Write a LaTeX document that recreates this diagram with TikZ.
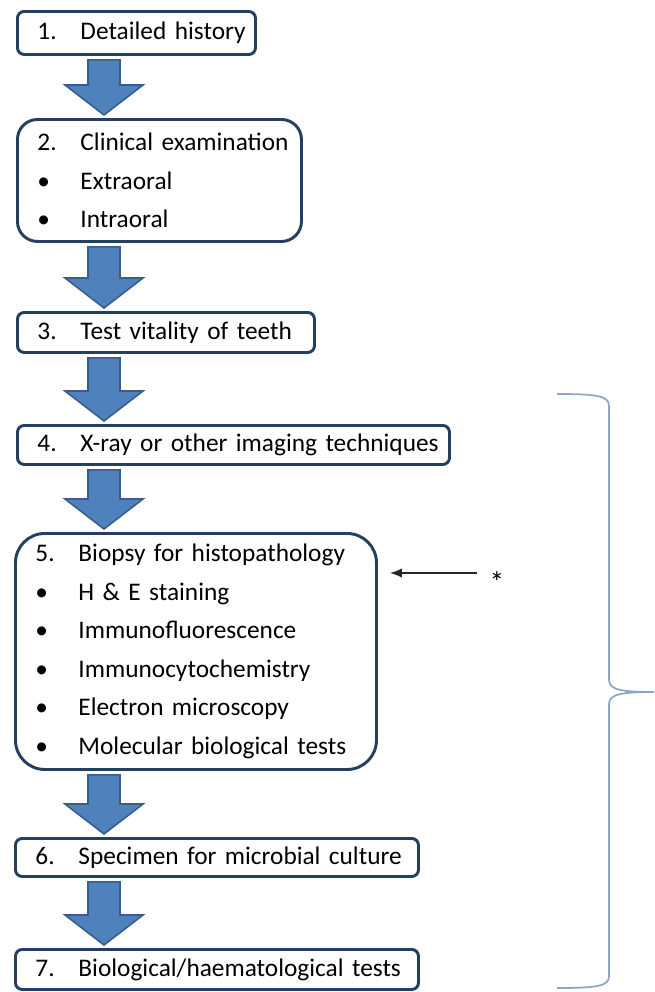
\documentclass[tikz,border=0pt]{standalone}
\usepackage{fontspec}
\setmainfont{Carlito}
\usetikzlibrary{calc,arrows.meta}
\definecolor{boxline}{HTML}{243F60}
\definecolor{arrowfill}{HTML}{4F81BD}
\definecolor{arrowline}{HTML}{385D8A}
\definecolor{braceline}{HTML}{8EA6C6}
\newcommand{\stepline}[2]{\makebox[\linewidth][l]{\makebox[32.25pt][l]{#1}#2}}

\begin{document}
\begin{tikzpicture}[x=0.75pt,y=-0.75pt,
	stepbox/.style={draw=boxline, line width=2.2pt, fill=white, rounded corners=5pt,
		anchor=north west, inner xsep=15pt, inner ysep=0pt, align=left,
		font=\fontsize{19}{28.9}\selectfont, text width=#1, minimum height=30pt},
	flowarrow/.style={fill=arrowfill, draw=arrowline, line width=1.2pt, line join=miter},
	notearrow/.style={-{Latex[length=9pt,width=7pt]}, draw=black!85, line width=1.1pt},
	bracestyle/.style={draw=braceline, line width=1.3pt}]
	\useasboundingbox (0,0) rectangle (654,992);
	\newcommand{\flowarrow}[2]{%
		\draw[flowarrow] ($(col |- #1.south)+(-16,4)$) -- ++(32,0)
			|- ($(col |- #2.north)+(39,-33)$) -- ($(col |- #2.north)+(0,-3)$)
			-- ++(-39,-30) -- ++(23,0) -- cycle;
	}
	\coordinate (col) at (104,0);
	% the seven steps
	\node[stepbox=148.5pt, minimum height=32.25pt] (b1) at (16,10) {\stepline{1.}{Detailed history}};
	\node[stepbox=183pt, minimum height=91.5pt, rounded corners=15pt] (b2) at (16,118)
		{\stepline{2.}{Clinical examination}\\ \stepline{\textbullet}{Extraoral}\\ \stepline{\textbullet}{Intraoral}};
	\node[stepbox=192.75pt] (b3) at (16,311) {\stepline{3.}{Test vitality of teeth}};
	\node[stepbox=294pt, minimum height=29.25pt] (b4) at (16,424) {\stepline{4.}{X-ray or other imaging techniques}};
	\node[stepbox=240.75pt, minimum height=177pt, rounded corners=22pt] (b5) at (14,532)
		{\stepline{5.}{Biopsy for histopathology}\\ \stepline{\textbullet}{H \& E staining}\\
		 \stepline{\textbullet}{Immunofluorescence}\\ \stepline{\textbullet}{Immunocytochemistry}\\
		 \stepline{\textbullet}{Electron microscopy}\\ \stepline{\textbullet}{Molecular biological tests}};
	\node[stepbox=272.25pt, minimum height=28.5pt] (b6) at (14,837) {\stepline{6.}{Specimen for microbial culture}};
	\node[stepbox=272.25pt] (b7) at (14,948) {\stepline{7.}{Biological/haematological tests}};
	% block arrows between steps
	\foreach \a/\b in {b1/b2, b2/b3, b3/b4, b4/b5, b5/b6, b6/b7}
		\flowarrow{\a}{\b};
	% note on the biopsy
	\node[font=\fontsize{22}{22}\selectfont, inner sep=0pt] (note) at (497,582) {*};
	\coordinate (notetail) at (477,573);
	\draw[notearrow, shorten >=9pt] (notetail) -- (notetail -| b5.east);
	% brace over steps 4 to 7
	\coordinate (bracetop) at (557,394);
	\coordinate (bracetip) at (654,692);
	\coordinate (bracebot) at (557,988);
	\draw[bracestyle] (bracetop) .. controls (598,394) and (609,396) .. (609,406) -- (609,680)
		.. controls (609,690) and (622,692) .. (bracetip)
		.. controls (622,692) and (609,694) .. (609,704) -- (609,976)
		.. controls (609,986) and (598,988) .. (bracebot);
\end{tikzpicture}
\end{document}
